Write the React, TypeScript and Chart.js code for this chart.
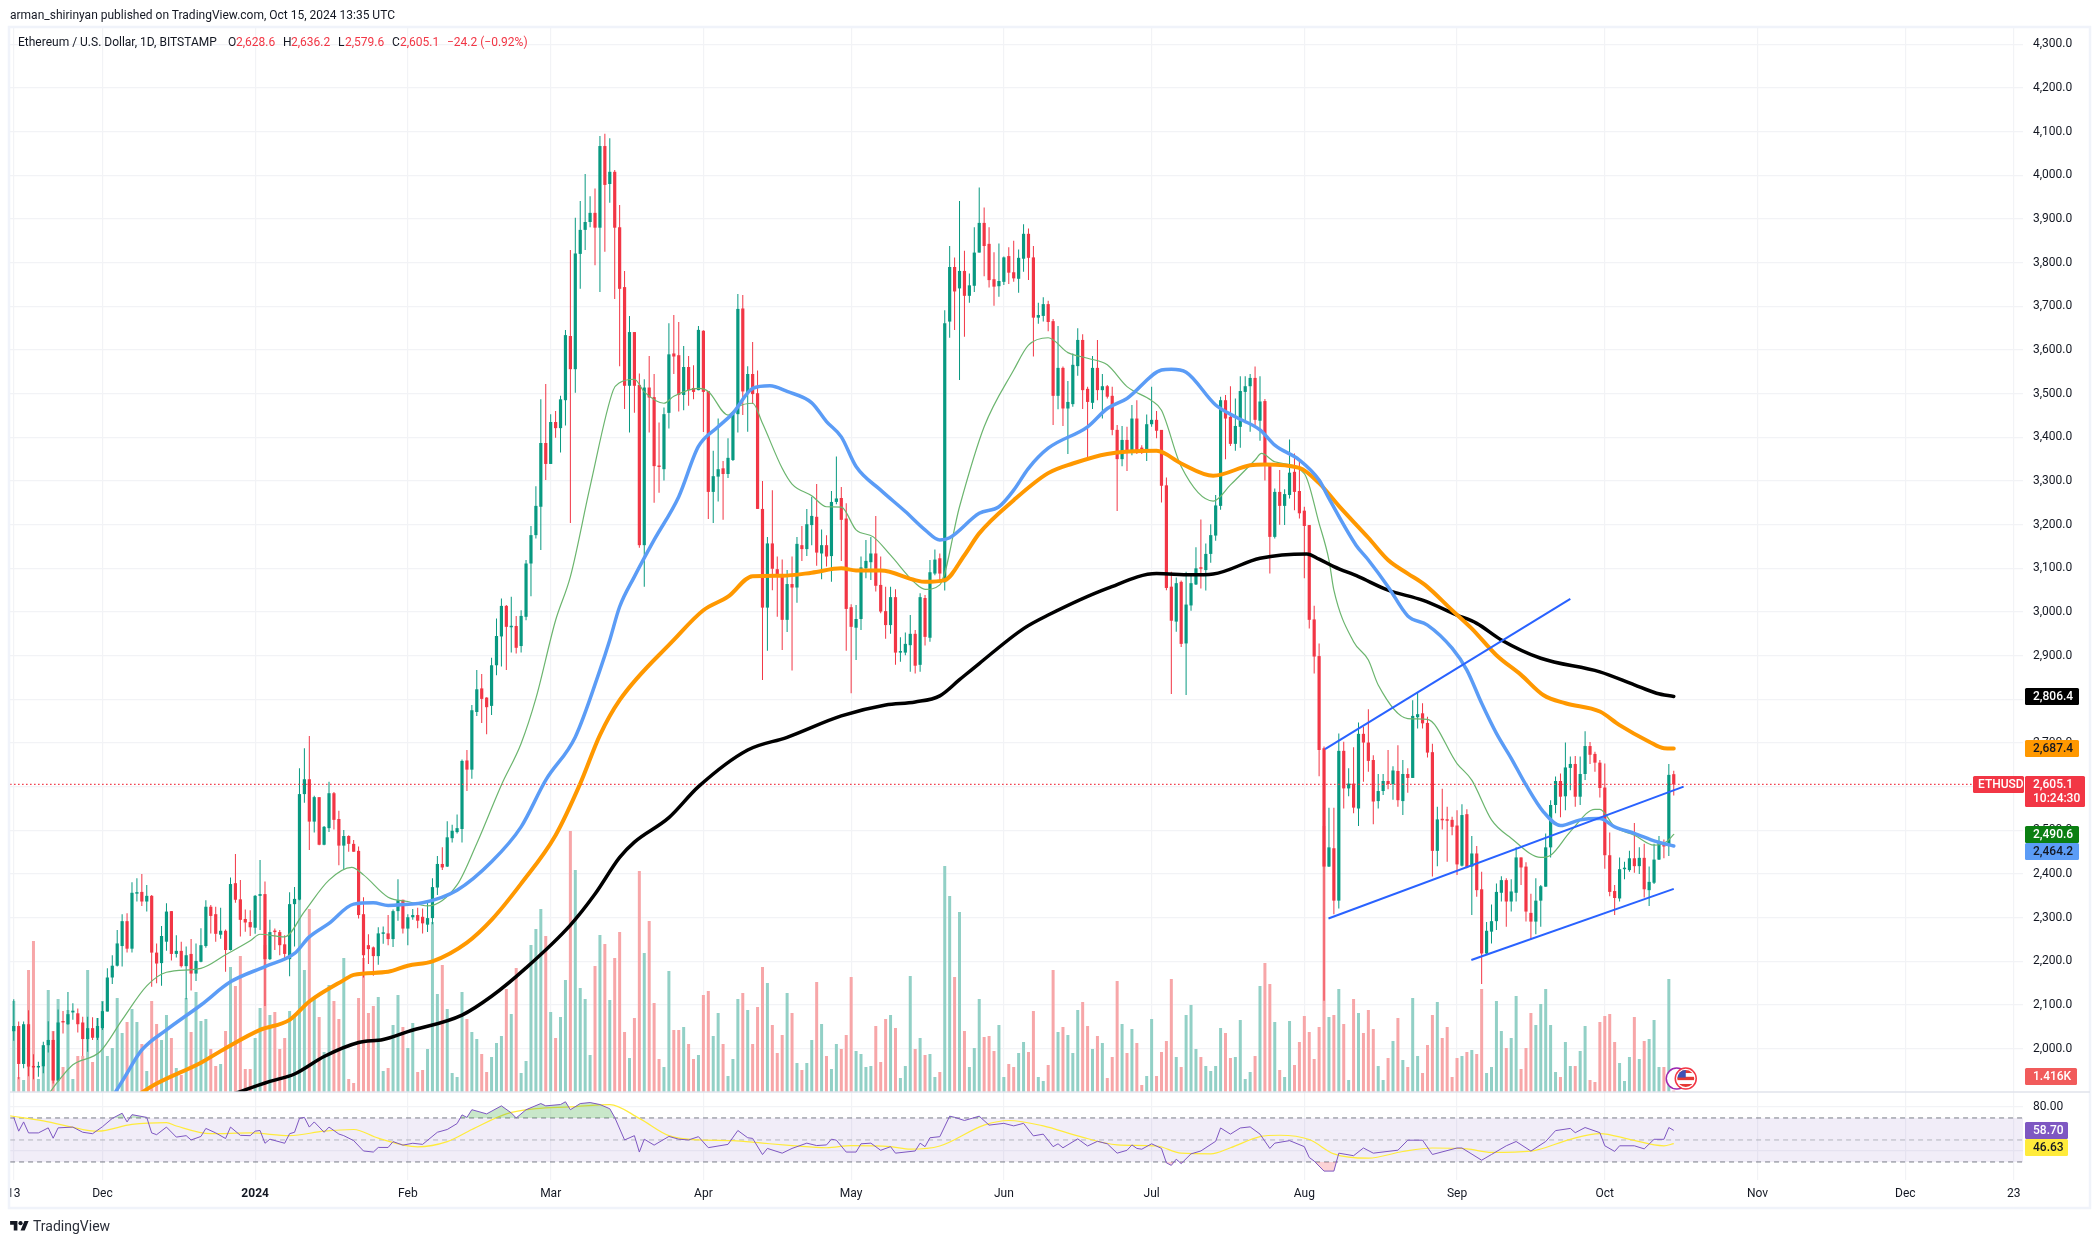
import React, { useEffect, useRef } from "react";
import { Chart, registerables } from "chart.js";

Chart.register(...registerables);

// All x values are days since 2024-01-01. Candles are daily, first one on 13 Nov 2023.
const FIRST_DAY = -49;

// Candles per month as [open, close, high, low]
const nov23 = [[2040,2052,2113,2018],[2052,1965,2062,1930],[1965,2056,2062,1955],[2056,1959,2088,1937],[1960,1957,1987,1930],[1957,1960,1970,1936],[1959,2008,2016,1944],[2008,2020,2063,1991],[2020,1927,2040,1920],[1927,2060,2090,1925],[2062,2060,2086,2035],[2056,2079,2130,2055],[2083,2087,2104,2066],[2081,2056,2092,2037],[2060,2022,2073,1983],[2022,2047,2073,1993],[2047,2025,2072,2020],[2025,2052,2070,2020]];
const dec23 = [[2047,2086,2108,2043],[2085,2163,2184,2085],[2163,2190,2214,2148],[2190,2241,2272,2188],[2235,2292,2308,2188],[2292,2229,2310,2220],[2229,2357,2381,2220],[2355,2357,2390,2337],[2359,2337,2400,2327],[2337,2350,2375,2314],[2350,2220,2352,2142],[2220,2195,2241,2150],[2196,2258,2281,2144],[2245,2314,2333,2224],[2315,2217,2315,2202],[2217,2224,2260,2209],[2224,2189,2245,2186],[2189,2214,2234,2113],[2217,2172,2251,2133],[2172,2201,2241,2155],[2199,2237,2276,2198],[2235,2325,2340,2231],[2325,2304,2329,2264],[2308,2263,2325,2245],[2261,2270,2323,2252],[2270,2226,2273,2176],[2226,2377,2392,2225],[2379,2341,2446,2334],[2342,2295,2386,2257],[2297,2289,2319,2268],[2290,2278,2317,2258]];
const jan24 = [[2277,2350,2352,2263],[2350,2354,2432,2272],[2354,2205,2383,2098],[2205,2267,2295,2203],[2269,2267,2275,2226],[2267,2237,2272,2214],[2239,2217,2260,2205],[2205,2331,2358,2166],[2331,2343,2370,2234],[2341,2583,2642,2340],[2583,2617,2688,2563],[2617,2520,2716,2455],[2520,2576,2579,2495],[2576,2467,2576,2466],[2467,2508,2510,2466],[2505,2585,2611,2496],[2585,2524,2588,2502],[2526,2465,2545,2420],[2465,2487,2501,2411],[2487,2469,2489,2451],[2469,2451,2478,2451],[2453,2306,2463,2298],[2308,2214,2347,2163],[2237,2228,2262,2194],[2232,2212,2234,2167],[2212,2264,2278,2192],[2263,2265,2280,2240],[2264,2251,2306,2237],[2251,2315,2319,2233],[2315,2340,2388,2293],[2341,2275,2341,2264]];
const feb24 = [[2275,2301,2308,2237],[2301,2306,2320,2295],[2306,2293,2323,2276],[2302,2287,2321,2264],[2284,2299,2336,2267],[2299,2370,2390,2285],[2369,2423,2441,2352],[2423,2415,2461,2409],[2417,2484,2521,2416],[2482,2499,2513,2472],[2496,2505,2536,2493],[2503,2659,2662,2472],[2660,2639,2684,2590],[2639,2775,2787,2618],[2771,2823,2867,2762],[2825,2801,2858,2746],[2804,2782,2805,2720],[2785,2878,2895,2764],[2878,2945,2985,2855],[2944,3014,3031,2875],[3014,2966,3016,2867],[2965,2968,3035,2907],[2968,2918,2991,2905],[2922,2991,3004,2907],[2989,3111,3119,2981],[3111,3176,3197,3036],[3176,3243,3288,3168],[3241,3387,3487,3142],[3387,3339,3522,3302]];
const mar24 = [[3339,3435,3453,3339],[3435,3421,3460,3399],[3421,3487,3495,3365],[3485,3634,3646,3427],[3632,3556,3829,3204],[3556,3821,3903,3502],[3820,3875,3941,3740],[3875,3893,4003,3829],[3893,3914,3952,3881],[3914,3880,3970,3794],[3880,4067,4090,3733],[4067,3978,4095,3825],[3980,4008,4085,3937],[4008,3880,4012,3717],[3881,3740,3932,3563],[3744,3518,3781,3465],[3518,3641,3678,3411],[3641,3518,3641,3456],[3520,3153,3546,3147],[3153,3514,3533,3058],[3514,3491,3586,3411],[3492,3334,3545,3250],[3335,3332,3434,3273],[3327,3453,3468,3301],[3456,3590,3661,3420],[3592,3585,3680,3545],[3588,3497,3664,3459],[3497,3561,3609,3462],[3561,3508,3586,3472],[3513,3504,3565,3487],[3508,3646,3655,3508]];
const apr24 = [[3644,3504,3645,3412],[3506,3275,3506,3213],[3275,3311,3369,3204],[3310,3327,3443,3253],[3329,3316,3346,3211],[3316,3353,3398,3307],[3348,3453,3455,3346],[3453,3694,3728,3411],[3695,3505,3726,3451],[3503,3545,3563,3413],[3545,3499,3618,3476],[3501,3236,3553,3236],[3236,3010,3300,2844],[3010,3157,3172,2911],[3157,3099,3279,3050],[3098,3082,3127,2989],[3085,2982,3120,2913],[2982,3064,3096,2954],[3064,3056,3127,2866],[3056,3156,3172,3021],[3153,3144,3197,3117],[3144,3201,3236,3128],[3199,3220,3264,3153],[3218,3136,3293,3106],[3134,3153,3189,3075],[3153,3127,3176,3104],[3128,3252,3277,3069],[3252,3260,3356,3247],[3261,3211,3286,3117],[3214,3007,3249,2911]];
const may24 = [[3011,2966,3018,2814],[2964,2984,3016,2890],[2984,3102,3127,2959],[3100,3117,3165,3077],[3114,3134,3172,3073],[3134,3060,3220,3047],[3062,3001,3127,2997],[3002,2970,3058,2939],[2970,3034,3058,2950],[3034,2907,3052,2879],[2907,2910,2942,2886],[2907,2927,2953,2901],[2924,2950,2993,2863],[2950,2877,2959,2859],[2879,3034,3043,2863],[3032,2943,3039,2923],[2941,3091,3119,2932],[3088,3120,3143,3084],[3123,3088,3134,3069],[3068,3661,3691,3049],[3665,3790,3838,3628],[3790,3734,3812,3646],[3741,3781,3941,3531],[3781,3724,3827,3630],[3724,3748,3775,3708],[3747,3823,3881,3733],[3823,3891,3972,3823],[3891,3838,3926,3769],[3843,3760,3881,3743],[3762,3745,3824,3701],[3746,3758,3844,3722]];
const jun24 = [[3756,3812,3814,3749],[3815,3777,3835,3751],[3778,3764,3850,3756],[3763,3811,3830,3731],[3809,3866,3888,3779],[3866,3811,3878,3760],[3812,3674,3838,3585],[3674,3680,3708,3660],[3678,3705,3721,3665],[3705,3664,3713,3643],[3666,3495,3671,3428],[3495,3559,3655,3464],[3559,3466,3562,3426],[3466,3481,3529,3362],[3476,3566,3592,3470],[3563,3623,3650,3541],[3623,3508,3636,3465],[3511,3481,3516,3352],[3479,3559,3586,3465],[3559,3508,3623,3485],[3508,3517,3545,3443],[3517,3493,3520,3489],[3495,3417,3516,3405],[3417,3350,3428,3231],[3350,3394,3426,3334],[3394,3367,3424,3323],[3365,3443,3474,3359],[3443,3371,3485,3362],[3375,3373,3382,3362],[3368,3430,3452,3346]];
const jul24 = [[3430,3440,3516,3424],[3440,3415,3460,3398],[3417,3289,3417,3251],[3290,3055,3308,3050],[3058,2980,3092,2812],[2978,3066,3079,2955],[3069,2927,3072,2920],[2928,3017,3092,2810],[3015,3066,3088,3003],[3063,3100,3148,3062],[3102,3099,3212,3054],[3096,3133,3157,3049],[3133,3176,3201,3113],[3175,3244,3268,3163],[3243,3485,3493,3234],[3485,3443,3497,3350],[3447,3385,3517,3380],[3385,3426,3489,3369],[3424,3506,3540,3376],[3504,3517,3540,3432],[3517,3536,3545,3413],[3536,3440,3562,3424],[3438,3482,3540,3392],[3483,3339,3488,3301],[3339,3172,3340,3088],[3172,3275,3283,3168],[3275,3243,3325,3200],[3243,3270,3281,3199],[3268,3319,3395,3260],[3321,3275,3363,3233],[3277,3226,3348,3214]];
const aug24 = [[3232,3197,3241,3077],[3199,2982,3199,2962],[2983,2898,3014,2859],[2899,2684,2928,2624],[2688,2417,2692,2110],[2417,2461,2552,2416],[2459,2339,2552,2308],[2339,2682,2722,2321],[2682,2596,2703,2550],[2596,2607,2642,2578],[2607,2552,2690,2539],[2550,2721,2747,2510],[2721,2701,2737,2611],[2701,2659,2777,2634],[2661,2566,2672,2514],[2567,2590,2629,2550],[2590,2613,2629,2581],[2613,2606,2684,2594],[2606,2637,2647,2570],[2636,2569,2695,2554],[2567,2629,2661,2535],[2629,2620,2642,2586],[2620,2762,2798,2620],[2759,2766,2817,2733],[2768,2745,2791,2733],[2746,2678,2760,2667],[2679,2453,2698,2394],[2453,2525,2554,2418],[2525,2523,2595,2502],[2524,2522,2554,2428],[2524,2508,2531,2489]];
const sep24 = [[2511,2422,2546,2398],[2419,2535,2560,2417],[2537,2415,2548,2413],[2417,2447,2487,2306],[2447,2363,2464,2348],[2365,2218,2405,2148],[2218,2270,2290,2215],[2268,2292,2330,2241],[2292,2359,2378,2272],[2357,2386,2395,2337],[2386,2337,2390,2279],[2337,2360,2388,2314],[2357,2438,2461,2337],[2438,2415,2438,2375],[2417,2314,2427,2291],[2311,2291,2355,2250],[2291,2339,2390,2262],[2339,2372,2375,2279],[2371,2461,2493,2371],[2461,2558,2569,2438],[2558,2613,2623,2539],[2613,2577,2630,2530],[2578,2644,2701,2546],[2643,2652,2669,2592],[2652,2577,2670,2554],[2577,2629,2669,2558],[2629,2693,2727,2615],[2693,2673,2702,2652],[2675,2655,2680,2634],[2655,2597,2661,2575]];
const oct24 = [[2598,2443,2653,2412],[2443,2359,2495,2349],[2361,2345,2375,2306],[2344,2411,2438,2337],[2411,2414,2428,2388],[2409,2436,2453,2405],[2436,2418,2517,2403],[2418,2437,2461,2400],[2437,2365,2469,2346],[2363,2382,2417,2327],[2380,2433,2469,2377],[2433,2472,2487,2432],[2472,2463,2479,2436],[2464,2627,2652,2441],[2628.6,2605.1,2636.2,2579.6]];

// Volume per day in thousands
const volumes = [91,15,12,122,151,13,25,102,61,93,25,82,13,36,36,122,30,74,91,36,44,94,59,70,83,70,48,21,91,68,52,77,54,24,17,94,60,100,71,73,43,26,28,61,125,106,136,23,23,54,84,147,77,80,43,54,81,77,192,122,183,93,75,40,107,91,73,134,13,9,94,134,79,86,95,21,24,67,97,65,44,69,20,22,43,170,98,127,83,19,15,100,73,60,53,38,20,35,49,56,103,78,124,19,31,147,163,183,156,80,54,75,112,261,222,104,93,37,126,157,148,92,134,160,60,34,74,221,139,171,89,33,25,121,62,62,65,48,33,37,97,101,56,79,48,16,33,93,99,82,48,85,125,109,67,39,57,99,79,29,22,29,52,110,68,36,23,48,43,57,115,41,38,25,26,66,30,73,77,64,14,26,116,43,54,37,38,15,20,226,196,115,180,61,25,44,93,55,56,41,67,15,28,25,39,50,40,81,15,11,27,122,60,65,57,39,82,90,66,43,56,49,14,35,111,68,39,63,49,7,16,73,16,40,51,113,35,25,77,87,43,35,26,21,26,64,59,34,35,72,13,20,36,106,129,108,70,22,15,71,27,50,76,60,33,65,266,75,77,103,68,12,93,79,59,82,63,26,12,34,51,74,32,25,94,36,19,47,77,90,54,65,15,34,36,40,42,38,103,19,25,91,61,44,54,96,23,44,79,67,88,103,67,20,15,50,26,26,41,66,12,10,70,76,78,50,29,11,35,75,33,51,53,72,25,25,113,1.416];

// Moving averages as [day, price] points
const maBlue = [[-29.5,1880],[-27,1925],[-23,1997],[-18,2043],[-11,2100],[-5,2153],[2,2188],[8,2218],[11,2256],[15,2287],[20,2331],[24,2334],[27,2328],[31,2331],[34,2334],[41,2363],[48,2428],[54,2508],[59,2615],[65,2714],[70,2867],[72,2936],[74,3012],[77,3081],[81,3165],[86,3264],[90,3379],[94,3424],[97,3455],[101,3512],[104.5,3518],[108,3505],[113,3479],[116,3436],[119,3401],[122,3333],[127,3279],[132,3230],[136,3188],[139,3165],[141,3170],[147,3226],[151,3241],[154,3279],[157,3329],[161,3375],[169,3424],[173,3466],[177,3489],[184,3554],[186,3556],[189,3549],[195,3474],[199,3447],[204,3417],[207,3382],[212,3348],[216,3302],[218,3260],[223.5,3153],[226,3119],[230,3058],[234,2991],[238,2970],[243,2917],[246,2867],[249,2791],[252,2722],[255,2665],[258,2604],[261.5,2543],[265,2511],[269,2524],[273,2527],[276,2508],[280,2493],[284.5,2474],[288,2464.2]];
const maOrange = [[-25,1885],[-20,1920],[-11,1968],[-6,2001],[1,2043],[7,2066],[11,2108],[18,2157],[20,2169],[27,2176],[31,2190],[36,2200],[43,2243],[48,2295],[54,2378],[61,2489],[66,2607],[70,2718],[74,2798],[85,2936],[91,3004],[96,3035],[101,3082],[107,3083],[113,3090],[119,3100],[122,3095],[127,3095],[134,3073],[136,3069],[140,3073],[144,3130],[147,3180],[154,3256],[161,3318],[166,3340],[173,3362],[183,3369],[188,3340],[194.5,3312],[202,3336],[205,3338],[212,3330],[216,3295],[220,3243],[226,3170],[230,3119],[234,3088],[237.5,3062],[243,3004],[247,2962],[252,2901],[257,2856],[261.5,2810],[266,2791],[273,2772],[277,2741],[283,2703],[286,2688],[288,2687.4]];
const maBlack = [[-6,1890],[3,1925],[8,1942],[14,1982],[21,2014],[26,2021],[31,2039],[42,2077],[48,2120],[55,2185],[64,2283],[69,2354],[74,2438],[77,2473],[84,2529],[90,2600],[100,2684],[108,2713],[119,2762],[128,2787],[134,2794],[139,2808],[143,2845],[147,2882],[156,2962],[161,2993],[173,3054],[183,3088],[190,3085],[194.5,3087],[204,3123],[213.5,3133],[216,3121],[219,3104],[224,3081],[230,3050],[237,3027],[244,2993],[248,2974],[253,2936],[261,2894],[273,2863],[280,2833],[284.5,2814],[288,2806.4]];
const maGreen = [[-42,1895],[-40,1925],[-37,1963],[-31.5,1993],[-27,2066],[-22,2144],[-18,2175],[-11,2184],[-6,2215],[-1,2247],[1,2262],[6,2256],[10,2314],[15,2386],[19.6,2415],[22,2398],[27,2347],[31,2337],[35,2327],[41,2375],[45,2470],[50,2604],[54,2699],[57,2802],[61,2981],[64,3081],[68,3287],[72.7,3508],[74,3525],[77,3533],[79,3504],[83,3478],[85,3494],[90,3512],[92,3505],[96,3451],[98,3470],[101,3478],[103,3432],[107,3329],[109,3293],[113,3266],[116,3241],[119,3240],[122,3188],[125.5,3172],[129,3130],[134,3066],[136,3052],[139,3062],[143,3241],[148,3424],[154,3554],[157,3611],[161,3628],[165,3594],[169,3581],[173,3566],[177,3516],[182,3484],[184,3462],[188,3333],[194.5,3254],[198,3291],[203,3348],[204.3,3363],[207,3344],[213,3317],[216,3203],[218,3119],[219,3050],[223,2932],[226,2890],[228,2833],[234,2756],[238,2754],[244,2653],[247,2615],[251,2524],[255,2482],[261,2438],[263,2443],[267,2497],[272,2548],[273,2548],[276,2508],[280,2489],[284,2466],[286.5,2474],[288,2490.6]];

// Hand-drawn channel lines: [day, price]
const trendUpper = [[217.2,2686],[267,3030]];
const trendMiddle = [[217.9,2298],[290,2600]];
const trendLower = [[246.9,2203],[288,2366]];

// RSI and its moving average as [day, value]
const rsiLine = [[-49,70.5],[-48,58],[-47,66.4],[-46,56.4],[-44,56.4],[-42,61],[-41,51.6],[-40,61],[-37,61.7],[-35,57],[-33,55.7],[-31,62],[-29,69.6],[-27,74.3],[-26,66.4],[-25,73],[-22,70.5],[-21,56.4],[-20,54.8],[-18,61.7],[-16,52.6],[-14,53.9],[-13,50],[-11,53.2],[-10,60.5],[-8,56.4],[-6,51.3],[-5,61.7],[-3,54.2],[-1,53.9],[0,58],[1,58.6],[2,47],[3,50.7],[6,47],[7,55.7],[8,57],[9,69.6],[10,70.5],[11,61.7],[12,66.4],[14,57],[15,61.7],[17,55.4],[18,53.9],[20,49.4],[22,40],[24,39],[25,43.2],[27,43.2],[28,48.5],[30,45.3],[32,47],[34,46],[37,57],[39,59.5],[41,64.9],[42,72.8],[43,70.5],[44,77.5],[47,73.7],[50,81],[52,74.6],[53,70],[55,77.5],[58,83.1],[59,81],[62,82.2],[63,84.7],[64,77.5],[66,83.1],[68,84],[70,82.2],[72,78.4],[73,70.5],[75,50],[77,53.9],[78,39],[79,50.7],[81,45.3],[84,53.2],[86,50.7],[88,50],[90,53],[92,43],[96,46],[98,58.6],[100,52],[101,51.4],[103,36.7],[104,42.3],[107,38],[109,42.3],[112,47.1],[114,44.9],[116,45.5],[117,50.7],[118,49.8],[120,39],[122,39],[123,46.5],[125,47.1],[127,40.6],[129,43.9],[130,38],[134,40],[135,47.1],[136,43.9],[137,52],[139,53],[141,71.6],[142,70.6],[144,67.7],[147,71.6],[149,63.5],[152,65.1],[154,62.8],[156,65.1],[158,53.7],[160,55.3],[162,43.9],[163,46.5],[164,42.9],[167,51],[169,44.5],[171,48.8],[173,46.5],[175,38],[177,40.6],[178,45.5],[179,42.3],[180,41.6],[182,46.5],[184,42.3],[185,29.2],[186,26.9],[187,32.5],[188,28.5],[190,37.4],[192,40],[195,48.8],[196,60.9],[198,55.3],[200,60.9],[202,61.9],[204,55.3],[206,42.3],[207,47.1],[210,49.4],[213,43.9],[214,34.1],[215,30.8],[217,21.7],[219,21.7],[220,38],[223,35.7],[225,42.7],[227,38],[232,40.7],[234,49.8],[237,49.8],[239,36.8],[244,42.7],[245,42.7],[249,31.6],[251,36.8],[254,44.7],[256,48.6],[259,39.9],[262,48.6],[264,58.5],[267,60.5],[268,56.6],[270,61.3],[273,56.6],[274,44.7],[276,39.6],[277,44.7],[280,44.7],[282,41.9],[284,50.6],[286,50.6],[287,61.3],[288,58.7]];
const rsiMa = [[-50,72],[-43,67.4],[-35,59.5],[-32,58],[-25,64.2],[-18,65.8],[-16,62.7],[-9,55.7],[-1,56.4],[7,53.9],[14,58],[20,59.5],[25,51.6],[33,43.8],[39,48.5],[44,59.5],[51,73.7],[57,78.4],[64,80],[72,82.2],[78,69.6],[84,53.9],[90,50],[97,49.4],[103,47.1],[109,44.9],[116,42.9],[121,44.9],[129,43.9],[133,41.6],[139,44.5],[148,63.5],[153,67.7],[160,62.8],[167,53.7],[175,45.5],[183,44.5],[188,38],[194,37.4],[198,42.9],[204,53],[208,54.3],[214,50.4],[219,37.4],[226,33.4],[233,39.5],[239,42.7],[246,41.9],[251,38.7],[259,39.9],[267,50.6],[273,55.8],[279,50.6],[286,44.7],[288,46.63]];

// Axis ticks
const priceTicks = [2000,2100,2200,2300,2400,2500,2600,2700,2800,2900,3000,3100,3200,3300,3400,3500,3600,3700,3800,3900,4000,4100,4200,4300];
const rsiTicks = [80,40];
const timeTickDays = [-49,-31,0,31,60,91,121,152,182,213,244,274,305,335,357];
const timeTickLabels = ["13","Dec","2024","Feb","Mar","Apr","May","Jun","Jul","Aug","Sep","Oct","Nov","Dec","23"];

// Last-value labels on the right axis
const priceBadges = [
  { value: 2806.4, text: "2,806.4", bg: "#000000", fg: "#ffffff" },
  { value: 2687.4, text: "2,687.4", bg: "#FF9800", fg: "#131722" },
  { value: 2490.6, text: "2,490.6", bg: "#0B7F12", fg: "#ffffff" },
  { value: 2464.2, text: "2,464.2", bg: "#5B9CF6", fg: "#131722" },
];
const rsiBadges = [
  { value: 58.7, text: "58.70", bg: "#7E57C2", fg: "#ffffff" },
  { value: 46.63, text: "46.63", bg: "#FFEB3B", fg: "#131722" },
];
const LAST_PRICE = 2605.1;
const COUNTDOWN = "10:24:30";

const candles = [...nov23, ...dec23, ...jan24, ...feb24, ...mar24, ...apr24, ...may24, ...jun24, ...jul24, ...aug24, ...sep24, ...oct24];
const UP = "#089981";
const DOWN = "#F23645";
const VOL_UP = "#92D0C6";
const VOL_DOWN = "#F7A6A8";
const X_MIN = -49.75;
const X_MAX = 358.9;
const FONT = "Roboto, sans-serif";

const isUp = (c: number[]) => c[1] >= c[0];
const pts = (rows: number[][]) => rows.map(([x, y]) => ({ x, y }));
const dayOf = (i: number) => FIRST_DAY + i;

function flatLine(value: number, axis: string, color: string, dash: number[], order: number, extra: any = {}) {
  return {
    type: "line", yAxisID: axis, xAxisID: "x", order,
    data: [{ x: X_MIN, y: value }, { x: X_MAX, y: value }],
    borderColor: color, borderWidth: 1, borderDash: dash, pointRadius: 0, ...extra,
  };
}
function maLine(rows: number[][], color: string, width: number, order: number) {
  return {
    type: "line", yAxisID: "y", xAxisID: "x", order, data: pts(rows),
    borderColor: color, borderWidth: width, pointRadius: 0,
    cubicInterpolationMode: "monotone", borderCapStyle: "round", borderJoinStyle: "round",
  };
}
function trend(rows: number[][]) {
  return {
    type: "line", yAxisID: "y", xAxisID: "x", order: 1, data: pts(rows),
    borderColor: "#2962FF", borderWidth: 2, pointRadius: 0,
  };
}

const framePlugin = {
  id: "frame",
  beforeDraw(chart: any) {
    const c = chart.ctx;
    c.save();
    c.fillStyle = "#ffffff";
    c.fillRect(0, 0, chart.width, chart.height);
    c.restore();
  },
  afterDraw(chart: any) {
    const c = chart.ctx;
    const y = chart.scales.y;
    const r = chart.scales.yRsi;
    const left = 2025;
    const box = (x: number, top: number, w: number, h: number, bg: string) => {
      c.fillStyle = bg;
      c.beginPath();
      c.roundRect(x, top, w, h, 1.5);
      c.fill();
    };
    const label = (text: string, x: number, mid: number, fg: string) => {
      c.fillStyle = fg;
      c.fillText(text, x, mid + 0.5);
    };
    // Draw a column of value badges, pushing each down when it would overlap the one above
    const column = (badges: any[], scale: any, w: number) => {
      let prevBottom = -Infinity;
      for (const b of badges) {
        const m = Math.max(scale.getPixelForValue(b.value), prevBottom + 8.5);
        box(left, m - 8.5, w, 17, b.bg);
        label(b.text, left + 8, m, b.fg);
        prevBottom = m + 8.5;
      }
    };
    c.save();
    c.strokeStyle = "#F0F3FA";
    c.lineWidth = 2.5;
    c.strokeRect(9, 27, 2081, 1181);
    c.strokeStyle = "#E0E3EB";
    c.lineWidth = 1.5;
    c.beginPath();
    c.moveTo(10, y.bottom);
    c.lineTo(2090, y.bottom);
    c.stroke();

    c.font = `500 12px ${FONT}`;
    c.textBaseline = "middle";
    c.textAlign = "left";
    column(priceBadges, y, 54);
    const lp = y.getPixelForValue(LAST_PRICE);
    box(1973, lp - 8.5, 51, 17, DOWN);
    label("ETHUSD", 1978, lp, "#ffffff");
    box(left, lp - 8.5, 60, 31, DOWN);
    label("2,605.1", left + 8, lp, "#ffffff");
    label(COUNTDOWN, left + 8, lp + 14, "#ffffff");

    const volY = chart.scales.yVol.getPixelForValue(volumes[volumes.length - 1]);
    box(left, 1068, 52, 17, "#F15B5B");
    label("1.416K", left + 8, 1076.5, "#ffffff");

    column(rsiBadges, r, 43);

    // Event markers at the end of the volume pane
    const cx = chart.scales.x.getPixelForValue(288);
    const my = volY - 12;
    c.lineWidth = 1.5;
    c.strokeStyle = "#9C27B0";
    c.fillStyle = "#ffffff";
    c.beginPath();
    c.arc(cx + 3, my, 10.5, 0, Math.PI * 2);
    c.fill();
    c.stroke();
    c.strokeStyle = DOWN;
    c.beginPath();
    c.arc(cx + 12, my, 10.5, 0, Math.PI * 2);
    c.fill();
    c.stroke();
    c.save();
    c.beginPath();
    c.arc(cx + 12, my, 8.5, 0, Math.PI * 2);
    c.clip();
    for (let i = 0; i < 5; i++) {
      c.fillStyle = i % 2 ? "#ffffff" : "#E53935";
      c.fillRect(cx + 3, my - 9 + i * 3.6, 18, 3.6);
    }
    c.fillStyle = "#3F51B5";
    c.fillRect(cx + 3, my - 9, 9, 8);
    c.restore();
    c.restore();
  },
};

function App() {
  const ref = useRef<HTMLCanvasElement | null>(null);
  useEffect(() => {
    if (!ref.current) return;
    const datasets: any[] = [
      {
        type: "bar", yAxisID: "yVol", xAxisID: "x", order: 20,
        data: volumes.map((v, i) => ({ x: dayOf(i), y: v })),
        backgroundColor: candles.map((c) => (isUp(c) ? VOL_UP : VOL_DOWN)),
        barThickness: 3, grouped: false, inflateAmount: 0,
      },
      {
        type: "bar", yAxisID: "y", xAxisID: "x", order: 12,
        data: candles.map((c, i) => ({ x: dayOf(i), y: [Math.min(c[3], c[0], c[1]), Math.max(c[2], c[0], c[1])] })),
        backgroundColor: candles.map((c) => (isUp(c) ? UP : DOWN)),
        barThickness: 1, grouped: false, inflateAmount: 0,
      },
      {
        type: "bar", yAxisID: "y", xAxisID: "x", order: 11,
        data: candles.map((c, i) => ({ x: dayOf(i), y: [c[0], c[1]] })),
        backgroundColor: candles.map((c) => (isUp(c) ? UP : DOWN)),
        barThickness: 3.2, grouped: false, inflateAmount: 0, minBarLength: 1.5,
      },
      flatLine(LAST_PRICE, "y", DOWN, [1.5, 2.5], 10, { borderWidth: 1.3 }),
      maLine(maGreen, "#6BB56E", 1.2, 9),
      maLine(maBlack, "#000000", 3.5, 8),
      maLine(maOrange, "#FF9800", 4, 7),
      maLine(maBlue, "#5B9CF6", 3.5, 6),
      trend(trendUpper),
      trend(trendMiddle),
      trend(trendLower),
      flatLine(70, "yRsi", "#787B86", [5, 4], 30, {
        fill: { target: { value: 30 }, above: "rgba(126,87,194,0.11)", below: "rgba(126,87,194,0.11)" },
      }),
      flatLine(30, "yRsi", "#787B86", [5, 4], 29),
      flatLine(50, "yRsi", "#B2B5BE", [5, 4], 28),
      {
        type: "line", yAxisID: "yRsi", xAxisID: "x", order: 4, data: pts(rsiMa),
        borderColor: "#FFEB3B", borderWidth: 1.2, pointRadius: 0, cubicInterpolationMode: "monotone",
      },
      {
        type: "line", yAxisID: "yRsi", xAxisID: "x", order: 3, data: pts(rsiLine),
        borderColor: "#7E57C2", borderWidth: 1, pointRadius: 0,
        fill: { target: { value: 70 }, above: "rgba(76,175,80,0.3)", below: "transparent" },
      },
      {
        type: "line", yAxisID: "yRsi", xAxisID: "x", order: 5, data: pts(rsiLine),
        borderColor: "transparent", borderWidth: 0, pointRadius: 0,
        fill: { target: { value: 30 }, above: "transparent", below: "rgba(242,54,69,0.22)" },
      },
    ];
    const tickFont = { family: FONT, size: 12 };
    const chart = new Chart(ref.current, {
      type: "bar",
      data: { datasets },
      plugins: [framePlugin],
      options: {
        animation: false,
        responsive: false,
        events: [],
        layout: { padding: { left: 10, right: 10, top: 28, bottom: 35 } },
        plugins: { legend: { display: false }, tooltip: { enabled: false } },
        scales: {
          x: {
            type: "linear", min: X_MIN, max: X_MAX, position: "bottom", offset: false,
            afterBuildTicks: (s: any) => { s.ticks = timeTickDays.map((value) => ({ value })); },
            afterFit: (s: any) => { s.height = 28; },
            grid: { color: "#F2F3F6", lineWidth: 1.2, drawTicks: false, offset: false },
            border: { display: false },
            ticks: {
              autoSkip: false, maxRotation: 0, padding: 7, color: "#131722",
              font: (ctx: any) => ({ ...tickFont, weight: ctx.tick && ctx.tick.value === 0 ? "700" : "400" }),
              callback: (v: any) => timeTickLabels[timeTickDays.indexOf(v)] ?? "",
            },
          },
          y: {
            axis: "y", type: "linear", position: "right", stack: "panes", stackWeight: 1064,
            min: 1900.8, max: 4337.3,
            afterFit: (s: any) => { s.width = 67; },
            afterBuildTicks: (s: any) => { s.ticks = priceTicks.map((value) => ({ value })); },
            grid: { color: "#F2F3F6", lineWidth: 1.2, drawTicks: false },
            border: { display: false },
            ticks: {
              padding: 10, color: "#131722", font: tickFont, autoSkip: false,
              callback: (v: any) => Number(v).toLocaleString("en-US", { minimumFractionDigits: 1, maximumFractionDigits: 1 }),
            },
          },
          yRsi: {
            axis: "y", type: "linear", position: "right", stack: "panes", stackWeight: 88,
            min: 13.6, max: 93.6,
            afterFit: (s: any) => { s.width = 67; },
            afterBuildTicks: (s: any) => { s.ticks = rsiTicks.map((value) => ({ value })); },
            grid: { color: "#F2F3F6", lineWidth: 1.2, drawTicks: false },
            border: { display: false },
            ticks: {
              padding: 10, color: "#131722", font: tickFont, autoSkip: false,
              callback: (v: any) => Number(v).toFixed(2),
            },
          },
          yVol: {
            axis: "y", type: "linear", position: "left", display: false,
            min: -88, max: 1064,
          },
        },
      } as any,
    } as any);
    return () => chart.destroy();
  }, []);

  const text = (left: number, top: number, s: string, color: string, extra: any = {}) => (
    <span style={{ position: "absolute", left, top, color, whiteSpace: "nowrap", lineHeight: "14px", ...extra }}>{s}</span>
  );
  return (
    <div style={{ position: "fixed", left: 0, top: 0, width: 2100, height: 1243, background: "#fff", fontFamily: FONT, fontSize: 12 }}>
      <canvas ref={ref} width={2100} height={1243} style={{ display: "block", width: 2100, height: 1243 }} />
      {text(10, 8, "arman_shirinyan published on TradingView.com, Oct 15, 2024 13:35 UTC", "#131722")}
      {text(18, 35, "Ethereum / U.S. Dollar, 1D, BITSTAMP", "#131722")}
      {text(228, 35, "O", "#131722")}
      {text(236, 35, "2,628.6", DOWN)}
      {text(283, 35, "H", "#131722")}
      {text(291, 35, "2,636.2", DOWN)}
      {text(338, 35, "L", "#131722")}
      {text(345, 35, "2,579.6", DOWN)}
      {text(392, 35, "C", "#131722")}
      {text(400, 35, "2,605.1", DOWN)}
      {text(447, 35, "\u221224.2 (\u22120.92%)", DOWN)}
      <svg style={{ position: "absolute", left: 10, top: 1219 }} width="19" height="12" viewBox="0 0 36 23">
        <path d="M14 22H7V11H0V4h14v18zM28 22h-8l7.5-18h8L28 22z" fill="#131722" />
        <circle cx="20" cy="8" r="4" fill="#131722" />
      </svg>
      {text(33, 1218, "TradingView", "#2A2E39", { fontSize: 14, lineHeight: "16px" })}
    </div>
  );
}

export default App;
